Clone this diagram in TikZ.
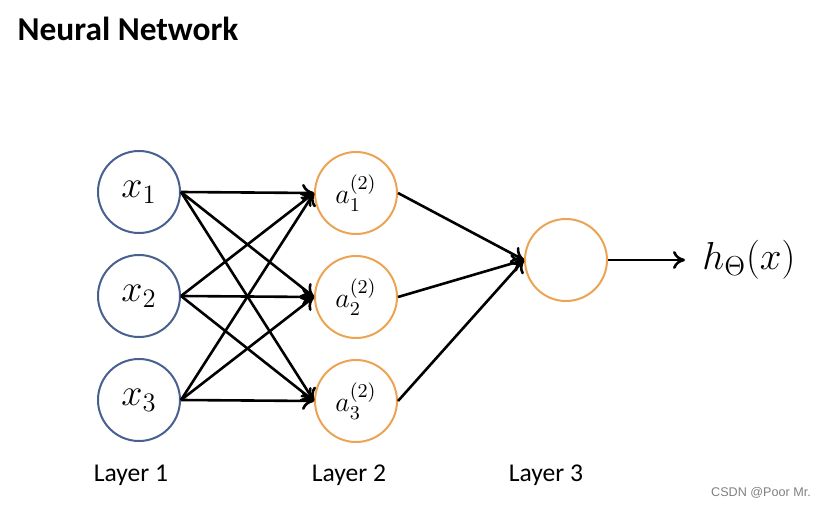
\RequirePackage{fix-cm}
\documentclass[tikz,border=0pt]{standalone}
\usepackage{amsmath}
\usepackage{fontspec}
\newfontfamily\carlito{Carlito}
\newfontfamily\liber{Liberation Sans}
\usepackage{tikz}
\usetikzlibrary{arrows.meta}
\usepackage{xcolor}
\definecolor{inblue}{RGB}{72,96,142}
\definecolor{unitorange}{RGB}{236,164,84}

\begin{document}
\begin{tikzpicture}[x=0.5pt, y=-0.5pt,
        inunit/.style={circle, draw=inblue, line width=1pt, minimum size=41pt, inner sep=0pt,
            font=\fontsize{19}{21}\selectfont},
        hidunit/.style={circle, draw=unitorange, line width=1pt, minimum size=41pt, inner sep=0pt,
            font=\fontsize{14}{16}\selectfont},
        wire/.style={line width=1.3pt, -{Computer Modern Rightarrow[length=6pt, width=9pt, line width=1.3pt]}},
        layername/.style={font=\carlito\fontsize{12.8}{14}\selectfont}]
            \useasboundingbox (0, 0) rectangle (826, 508);

            \node[font=\carlito\bfseries\fontsize{16.7}{18}\selectfont] (title) at (128, 29) {Neural Network};

            % input layer
            \node[inunit] (x1) at (139, 192) {$x_1$};
            \node[inunit] (x2) at (139, 296) {$x_2$};
            \node[inunit] (x3) at (139, 400) {$x_3$};

            % hidden layer
            \node[hidunit] (a1) at (356, 193) {$a_1^{(2)}$};
            \node[hidunit] (a2) at (356, 297) {$a_2^{(2)}$};
            \node[hidunit] (a3) at (356, 401) {$a_3^{(2)}$};

            % output layer
            \node[hidunit] (out) at (566, 260) {};
            \node[font=\fontsize{19.5}{21}\selectfont, anchor=west, inner xsep=8.5pt] (hyp) at (685, 260) {$h_\Theta(x)$};

            \foreach \i in {1, 2, 3} {
                \foreach \j in {1, 2, 3} {
                    \draw[wire] (x\i.east) -- (a\j.west);
                }
                \draw[wire] (a\i.east) -- (out.west);
            }
            \draw[wire] (out.east) -- (out.east -| hyp.west);

            \node[layername] (lay1) at (131, 475) {Layer 1};
            \node[layername] (lay2) at (349, 475) {Layer 2};
            \node[layername] (lay3) at (546, 475) {Layer 3};

            \node[font=\liber\fontsize{6.3}{7}\selectfont, text=gray] (mark) at (761, 493) {CSDN @Poor Mr.};
        \end{tikzpicture}
\end{document}
